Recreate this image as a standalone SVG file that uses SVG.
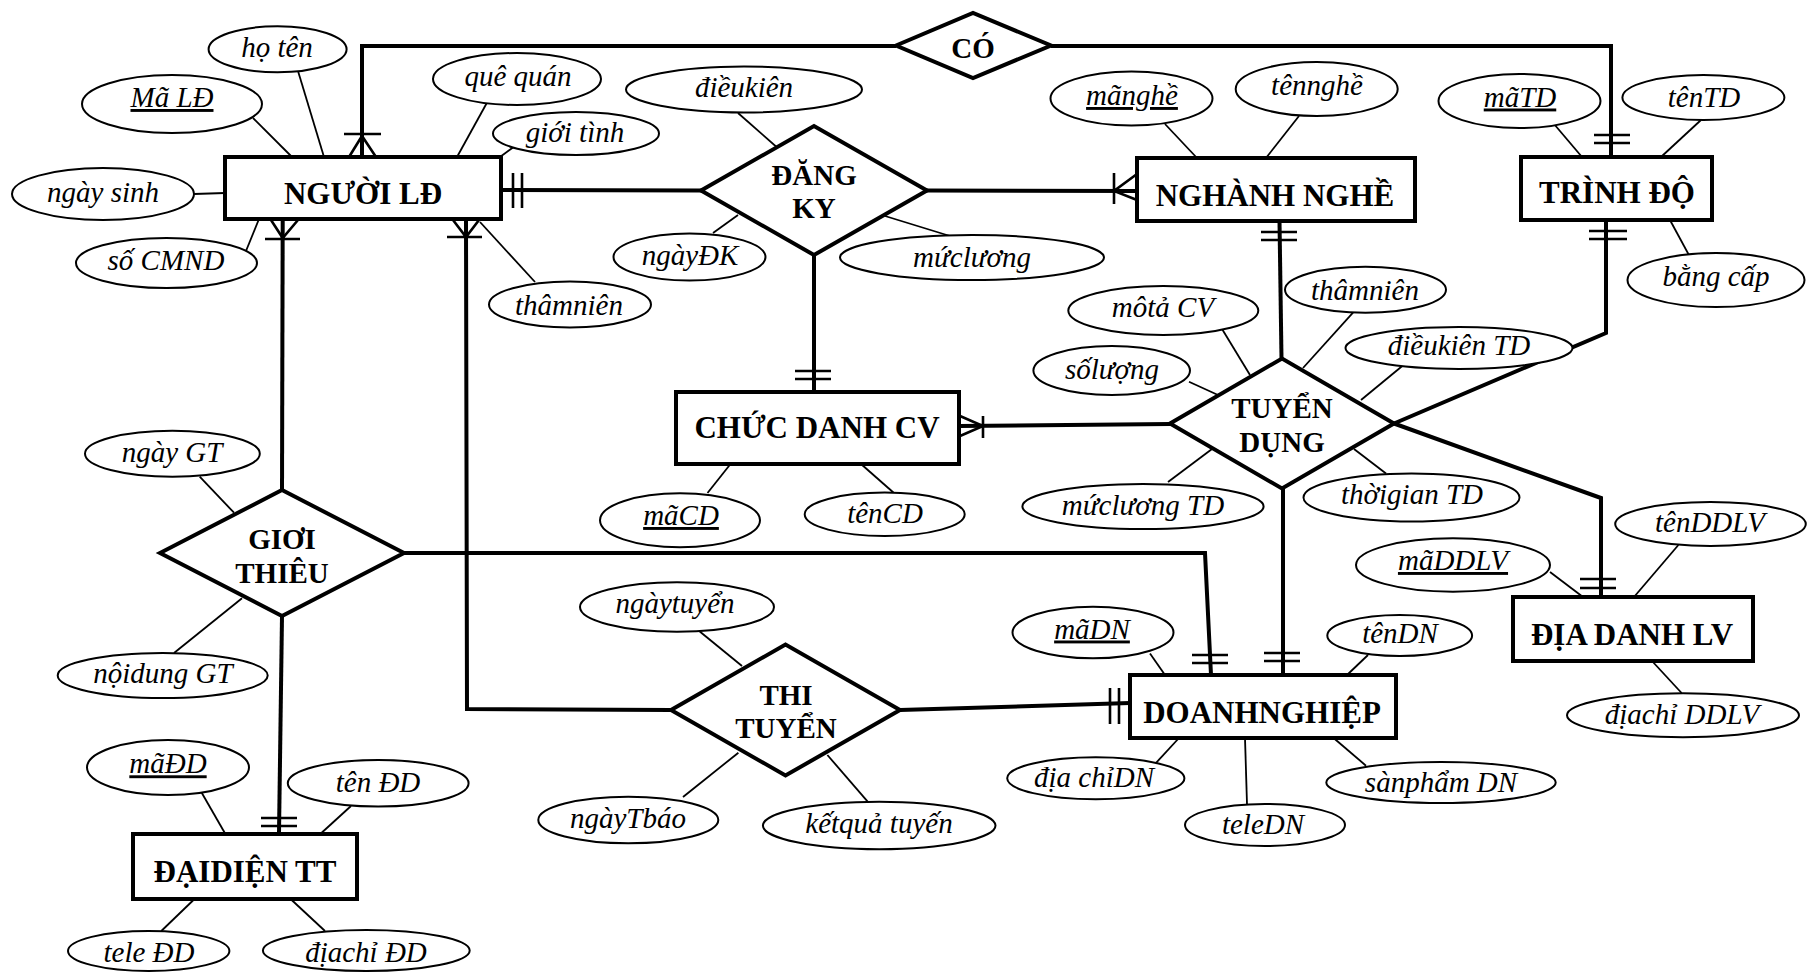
<svg xmlns="http://www.w3.org/2000/svg" width="1818" height="972" viewBox="0 0 1818 972">
  <style>
    .ent { fill: #fff; stroke: #000; stroke-width: 4; }
    .rel { fill: #fff; stroke: #000; stroke-width: 4; stroke-linejoin: miter; }
    .attr { fill: #fff; stroke: #000; stroke-width: 2; }
    .conn { fill: none; stroke: #000; stroke-width: 4; }
    .al { fill: none; stroke: #000; stroke-width: 1.8; }
    .mk { fill: none; stroke: #000; stroke-width: 2.6; }
    text { fill: #000; text-anchor: middle; }
    .te { font-family: "Liberation Serif", "Times New Roman", serif; font-weight: bold; font-size: 31px; }
    .tr { font-family: "Liberation Serif", "Times New Roman", serif; font-weight: bold; font-size: 29px; }
    .ta { font-family: "Liberation Serif", "Times New Roman", serif; font-style: italic; font-size: 29px; }
    .u { text-decoration: underline; }
  </style>
  <rect width="1818" height="972" fill="#fff"/>

  <!-- relationship lines, cardinality marks and attribute links -->
  <g id="connectors">
    <!-- NGƯỜI LĐ – CÓ – TRÌNH ĐỘ -->
    <polyline class="conn" points="362,157 362,46 896,46"/>
    <polyline class="conn" points="1051,46 1611,46 1611,157"/>
    <path class="mk" d="M349,157 L362,136 L376,157 M344,134 H381"/>
    <path class="mk" d="M1594,135 H1630 M1594,143 H1630"/>

    <!-- NGƯỜI LĐ – ĐĂNG KY – NGHÀNH NGHỀ / CHỨC DANH CV -->
    <line class="conn" x1="501" y1="190" x2="701" y2="190.5"/>
    <path class="mk" d="M513,173 V208 M522,173 V208"/>
    <line class="conn" x1="927" y1="190.5" x2="1137" y2="191"/>
    <path class="mk" d="M1137,174 L1114,191 L1137,200 M1114,173 V204"/>
    <line class="conn" x1="814" y1="255" x2="814" y2="392"/>
    <path class="mk" d="M795,371 H831 M795,379 H831"/>

    <!-- CHỨC DANH CV / NGHÀNH NGHỀ / TRÌNH ĐỘ / ĐỊA DANH LV / DOANHNGHIỆP – TUYỂN DỤNG -->
    <line class="conn" x1="959" y1="426" x2="1170" y2="424"/>
    <path class="mk" d="M960,416 L983,426 L960,436 M983,416 V438"/>
    <line class="conn" x1="1279.5" y1="221" x2="1281.5" y2="358.5"/>
    <path class="mk" d="M1261,232 H1297 M1261,240 H1297"/>
    <polyline class="conn" points="1606,220 1606,333 1394,423.5"/>
    <path class="mk" d="M1589,231 H1627 M1589,239 H1627"/>
    <polyline class="conn" points="1394,423.5 1601,498 1601,597"/>
    <path class="mk" d="M1580,579 H1616 M1580,588 H1616"/>
    <line class="conn" x1="1283" y1="488.5" x2="1283" y2="675"/>
    <path class="mk" d="M1264,653 H1300 M1264,661 H1300"/>

    <!-- NGƯỜI LĐ – GIƠI THIÊU – DOANHNGHIỆP / ĐẠIDIỆN TT -->
    <line class="conn" x1="282.7" y1="219" x2="282" y2="490"/>
    <path class="mk" d="M271,220 L282.7,238 L298,220 M265,239 H300"/>
    <polyline class="conn" points="404,553 1205,553 1211,675"/>
    <path class="mk" d="M1192,655 H1228 M1192,663 H1228"/>
    <line class="conn" x1="282" y1="616" x2="279" y2="834"/>
    <path class="mk" d="M261,818 H297 M261,826 H297"/>

    <!-- NGƯỜI LĐ – THI TUYỂN – DOANHNGHIỆP -->
    <polyline class="conn" points="466,219 467,709 671,710"/>
    <path class="mk" d="M453,220 L466,237 L479,220 M447,237 H482"/>
    <line class="conn" x1="900" y1="710" x2="1130" y2="703"/>
    <path class="mk" d="M1110,688 V724 M1119,688 V724"/>

    <!-- attribute links -->
    <line class="al" x1="298" y1="71" x2="324" y2="157"/>
    <line class="al" x1="253" y1="118" x2="292" y2="157"/>
    <line class="al" x1="489" y1="99" x2="457" y2="157"/>
    <line class="al" x1="519" y1="143" x2="500" y2="157"/>
    <line class="al" x1="194" y1="194" x2="225" y2="193"/>
    <line class="al" x1="246" y1="251" x2="259" y2="219"/>
    <line class="al" x1="480" y1="222" x2="535" y2="282"/>
    <line class="al" x1="738" y1="113" x2="780" y2="150"/>
    <line class="al" x1="713" y1="233" x2="738" y2="215"/>
    <line class="al" x1="885" y1="216" x2="950" y2="236"/>
    <line class="al" x1="1165" y1="124" x2="1197" y2="158"/>
    <line class="al" x1="1299" y1="116" x2="1266" y2="158"/>
    <line class="al" x1="1554" y1="124" x2="1582" y2="157"/>
    <line class="al" x1="1701" y1="120" x2="1661" y2="157"/>
    <line class="al" x1="1670.5" y1="221" x2="1690" y2="257"/>
    <line class="al" x1="1219" y1="324" x2="1250" y2="375"/>
    <line class="al" x1="1353" y1="312.7" x2="1303" y2="368"/>
    <line class="al" x1="1189" y1="381.7" x2="1218" y2="395"/>
    <line class="al" x1="1403.5" y1="365" x2="1361" y2="400"/>
    <line class="al" x1="1168" y1="482" x2="1212" y2="449"/>
    <line class="al" x1="1354" y1="449" x2="1386" y2="473.5"/>
    <line class="al" x1="730.5" y1="464" x2="707.5" y2="493"/>
    <line class="al" x1="861" y1="464" x2="893.4" y2="492.5"/>
    <line class="al" x1="1678.4" y1="545" x2="1634" y2="597"/>
    <line class="al" x1="1550" y1="572" x2="1583" y2="597"/>
    <line class="al" x1="1652" y1="661" x2="1681.6" y2="693"/>
    <line class="al" x1="1368" y1="655" x2="1347" y2="675"/>
    <line class="al" x1="1150" y1="653.5" x2="1165" y2="675"/>
    <line class="al" x1="1179" y1="738" x2="1155.6" y2="763.3"/>
    <line class="al" x1="1245" y1="738" x2="1247" y2="804"/>
    <line class="al" x1="1333.6" y1="738" x2="1366" y2="765.7"/>
    <line class="al" x1="697" y1="629.3" x2="742" y2="666"/>
    <line class="al" x1="683" y1="797" x2="738.4" y2="752.7"/>
    <line class="al" x1="827.4" y1="755" x2="872" y2="806.7"/>
    <line class="al" x1="199.7" y1="476.7" x2="234" y2="512.7"/>
    <line class="al" x1="242" y1="598.3" x2="174" y2="653"/>
    <line class="al" x1="201.7" y1="792.7" x2="225.4" y2="834"/>
    <line class="al" x1="351" y1="806" x2="320.3" y2="834"/>
    <line class="al" x1="194.5" y1="899" x2="161.3" y2="931"/>
    <line class="al" x1="290.6" y1="899" x2="325" y2="931"/>
  </g>

  <!-- entities -->
  <g id="nguoi-ld">
    <rect class="ent" x="225" y="157" width="276" height="62"/>
    <text class="te" x="363" y="204">NGƯỜI LĐ</text>
  </g>
  <g id="nganh-nghe">
    <rect class="ent" x="1137" y="158" width="278" height="63"/>
    <text class="te" x="1275" y="206">NGHÀNH NGHỀ</text>
  </g>
  <g id="trinh-do">
    <rect class="ent" x="1521" y="157" width="191" height="63"/>
    <text class="te" x="1617" y="203">TRÌNH ĐỘ</text>
  </g>
  <g id="chuc-danh-cv">
    <rect class="ent" x="676" y="392" width="283" height="72"/>
    <text class="te" x="817" y="438">CHỨC DANH CV</text>
  </g>
  <g id="dia-danh-lv">
    <rect class="ent" x="1513" y="597" width="240" height="64"/>
    <text class="te" x="1632" y="645">ĐỊA DANH LV</text>
  </g>
  <g id="doanh-nghiep">
    <rect class="ent" x="1130" y="675" width="266" height="63"/>
    <text class="te" x="1262" y="723">DOANHNGHIỆP</text>
  </g>
  <g id="dai-dien-tt">
    <rect class="ent" x="133" y="834" width="224" height="65"/>
    <text class="te" x="245" y="882">ĐẠIDIỆN TT</text>
  </g>

  <!-- relationships -->
  <g id="co">
    <polygon class="rel" points="896,45.5 973,13 1051,45.5 973,78"/>
    <text class="tr" x="973" y="58">CÓ</text>
  </g>
  <g id="dang-ky">
    <polygon class="rel" points="701,190.5 814,126 927,190.5 814,255"/>
    <text class="tr" x="814" y="185">ĐĂNG</text>
    <text class="tr" x="814" y="218">KY</text>
  </g>
  <g id="tuyen-dung">
    <polygon class="rel" points="1170,423.5 1282,358.5 1394,423.5 1282,488.5"/>
    <text class="tr" x="1282" y="418">TUYỂN</text>
    <text class="tr" x="1282" y="452">DỤNG</text>
  </g>
  <g id="gioi-thieu">
    <polygon class="rel" points="160,553 282,490 404,553 282,616"/>
    <text class="tr" x="282" y="549">GIƠI</text>
    <text class="tr" x="282" y="583">THIÊU</text>
  </g>
  <g id="thi-tuyen">
    <polygon class="rel" points="671,710 785.5,644.5 900,710 785.5,775.5"/>
    <text class="tr" x="786" y="705">THI</text>
    <text class="tr" x="786" y="738">TUYỂN</text>
  </g>

  <!-- attributes -->
  <g id="a-ho-ten"><ellipse class="attr" cx="277.6" cy="49.3" rx="69" ry="23"/><text class="ta" x="277" y="57">họ tên</text></g>
  <g id="a-ma-ld"><ellipse class="attr" cx="172" cy="104" rx="90" ry="29"/><text class="ta u" x="172" y="107">Mã LĐ</text></g>
  <g id="a-que-quan"><ellipse class="attr" cx="517" cy="79" rx="84" ry="26"/><text class="ta" x="518" y="86">quê quán</text></g>
  <g id="a-gioi-tinh"><ellipse class="attr" cx="576" cy="133.5" rx="83" ry="21.5"/><text class="ta" x="575" y="141.5">giới tình</text></g>
  <g id="a-ngay-sinh"><ellipse class="attr" cx="103" cy="194" rx="91" ry="26"/><text class="ta" x="103" y="202">ngày sinh</text></g>
  <g id="a-so-cmnd"><ellipse class="attr" cx="166.5" cy="263" rx="90.5" ry="25"/><text class="ta" x="166" y="270">số CMND</text></g>
  <g id="a-tham-nien-ld"><ellipse class="attr" cx="570" cy="304.5" rx="81" ry="23"/><text class="ta" x="569" y="315">thâmniên</text></g>
  <g id="a-dieu-kien"><ellipse class="attr" cx="744" cy="89.5" rx="118" ry="23"/><text class="ta" x="744" y="97">điềukiên</text></g>
  <g id="a-ngay-dk"><ellipse class="attr" cx="689.5" cy="257" rx="76" ry="23.5"/><text class="ta" x="690" y="265">ngàyĐK</text></g>
  <g id="a-muc-luong"><ellipse class="attr" cx="972" cy="257.5" rx="132" ry="22.5"/><text class="ta" x="972" y="267">mứclương</text></g>
  <g id="a-ma-nghe"><ellipse class="attr" cx="1131.5" cy="98.5" rx="81" ry="27"/><text class="ta u" x="1132" y="105">mãnghề</text></g>
  <g id="a-ten-nghe"><ellipse class="attr" cx="1316.7" cy="89" rx="81" ry="27"/><text class="ta" x="1317" y="94.5">tênnghề</text></g>
  <g id="a-ma-td"><ellipse class="attr" cx="1519.5" cy="101" rx="81" ry="27"/><text class="ta u" x="1520" y="106.5">mãTD</text></g>
  <g id="a-ten-td"><ellipse class="attr" cx="1703.4" cy="97.5" rx="81" ry="22.5"/><text class="ta" x="1704" y="106.5">tênTD</text></g>
  <g id="a-bang-cap"><ellipse class="attr" cx="1716" cy="280" rx="88.5" ry="27"/><text class="ta" x="1716" y="286">bằng cấp</text></g>
  <g id="a-mo-ta-cv"><ellipse class="attr" cx="1163.3" cy="310.5" rx="95" ry="24.5"/><text class="ta" x="1163" y="317">môtả CV</text></g>
  <g id="a-tham-nien-td"><ellipse class="attr" cx="1365.5" cy="289.7" rx="80.5" ry="23"/><text class="ta" x="1365" y="299.5">thâmniên</text></g>
  <g id="a-so-luong"><ellipse class="attr" cx="1111.7" cy="370.5" rx="78.3" ry="24.5"/><text class="ta" x="1112" y="378.5">sốlượng</text></g>
  <g id="a-dieu-kien-td"><ellipse class="attr" cx="1459" cy="348" rx="113.5" ry="21"/><text class="ta" x="1459" y="355">điềukiên TD</text></g>
  <g id="a-muc-luong-td"><ellipse class="attr" cx="1143" cy="506.5" rx="120.6" ry="22.5"/><text class="ta" x="1143" y="515">mứclương TD</text></g>
  <g id="a-thoi-gian-td"><ellipse class="attr" cx="1411.5" cy="497.5" rx="108" ry="24"/><text class="ta" x="1412" y="504">thờigian TD</text></g>
  <g id="a-ma-cd"><ellipse class="attr" cx="680" cy="520.3" rx="80" ry="27"/><text class="ta u" x="681" y="525">mãCD</text></g>
  <g id="a-ten-cd"><ellipse class="attr" cx="884.7" cy="514.3" rx="80" ry="21.7"/><text class="ta" x="885" y="523">tênCD</text></g>
  <g id="a-ten-ddlv"><ellipse class="attr" cx="1710.5" cy="524" rx="95.3" ry="22"/><text class="ta" x="1710" y="531.5">tênDDLV</text></g>
  <g id="a-ma-ddlv"><ellipse class="attr" cx="1453" cy="565" rx="97" ry="26.7"/><text class="ta u" x="1453" y="570">mãDDLV</text></g>
  <g id="a-dia-chi-ddlv"><ellipse class="attr" cx="1683" cy="715.3" rx="116" ry="22"/><text class="ta" x="1682" y="724">địachỉ DDLV</text></g>
  <g id="a-ten-dn"><ellipse class="attr" cx="1399.7" cy="635.5" rx="72.4" ry="20.5"/><text class="ta" x="1400" y="643">tênDN</text></g>
  <g id="a-ma-dn"><ellipse class="attr" cx="1093" cy="632.5" rx="80.5" ry="25.8"/><text class="ta u" x="1092" y="638.5">mãDN</text></g>
  <g id="a-dia-chi-dn"><ellipse class="attr" cx="1095.8" cy="778.3" rx="88.6" ry="21"/><text class="ta" x="1094" y="786.5">địa chỉDN</text></g>
  <g id="a-tele-dn"><ellipse class="attr" cx="1265" cy="825" rx="80" ry="21"/><text class="ta" x="1263" y="834">teleDN</text></g>
  <g id="a-san-pham-dn"><ellipse class="attr" cx="1441" cy="782.5" rx="114.7" ry="20.5"/><text class="ta" x="1441" y="791.5">sànphẩm DN</text></g>
  <g id="a-ngay-tuyen"><ellipse class="attr" cx="677" cy="607" rx="97" ry="24.7"/><text class="ta" x="675" y="613.3">ngàytuyển</text></g>
  <g id="a-ngay-tbao"><ellipse class="attr" cx="628.3" cy="820" rx="90" ry="23.3"/><text class="ta" x="628" y="828">ngàyTbáo</text></g>
  <g id="a-ket-qua"><ellipse class="attr" cx="879.2" cy="825.5" rx="116.3" ry="23.8"/><text class="ta" x="879" y="833.3">kếtquả tuyến</text></g>
  <g id="a-ngay-gt"><ellipse class="attr" cx="172.4" cy="453.7" rx="87.4" ry="23"/><text class="ta" x="172" y="461.7">ngày GT</text></g>
  <g id="a-noi-dung-gt"><ellipse class="attr" cx="162.7" cy="675.5" rx="105" ry="22.5"/><text class="ta" x="163" y="683.3">nộidung GT</text></g>
  <g id="a-ma-dd"><ellipse class="attr" cx="168" cy="767.5" rx="81" ry="27.5"/><text class="ta u" x="168" y="773.3">mãĐD</text></g>
  <g id="a-ten-dd"><ellipse class="attr" cx="378.2" cy="783.3" rx="90.4" ry="23.3"/><text class="ta" x="378" y="791.7">tên ĐD</text></g>
  <g id="a-tele-dd"><ellipse class="attr" cx="148.7" cy="951" rx="80.7" ry="20"/><text class="ta" x="149" y="961.5">tele ĐD</text></g>
  <g id="a-dia-chi-dd"><ellipse class="attr" cx="366.3" cy="950.5" rx="103.4" ry="20.5"/><text class="ta" x="366" y="961.5">địachỉ ĐD</text></g>
</svg>
